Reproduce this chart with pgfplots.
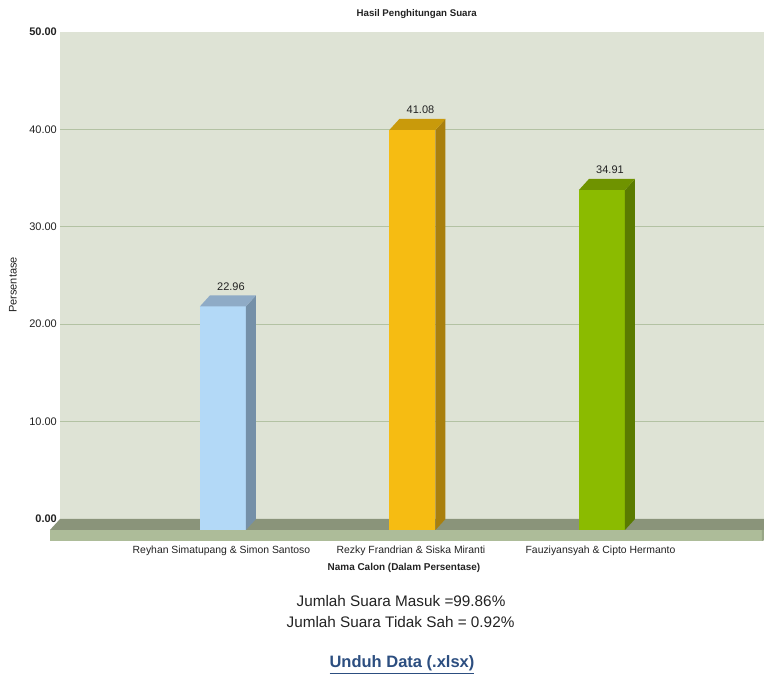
\documentclass[border=0pt]{standalone}
\usepackage{fontspec}
\setmainfont{Liberation Sans}
\usepackage{pgfplots}
\usepackage{pgfplotstable}
\pgfplotsset{compat=1.18}
\definecolor{bgc}{HTML}{DEE3D5}
\definecolor{gridc}{HTML}{B3C2A3}
\definecolor{floordark}{HTML}{8A947A}
\definecolor{floorlight}{HTML}{ADBC99}
\definecolor{floorend}{HTML}{98A686}
\definecolor{aF}{HTML}{B3D9F7}
\definecolor{aT}{HTML}{8FABC6}
\definecolor{aS}{HTML}{7590A8}
\definecolor{bF}{HTML}{F6BC12}
\definecolor{bT}{HTML}{C99A0B}
\definecolor{bS}{HTML}{A97F0D}
\definecolor{cF}{HTML}{8BBB00}
\definecolor{cT}{HTML}{6F9300}
\definecolor{cS}{HTML}{5A7B00}
\definecolor{txt}{HTML}{222222}
\definecolor{linkc}{HTML}{2C4E80}
\pgfdeclareplotmark{none3d}{}
\newcommand\boxfaces[2]{%
  \pgfmathsetmacro\hh{\val*9.74}%
  \pgfsetfillcolor{#2}%
  \pgfpathmoveto{\pgfpoint{23pt}{-11pt}}%
  \pgfpathlineto{\pgfpoint{33pt}{0pt}}%
  \pgfpathlineto{\pgfpoint{33pt}{-\hh pt}}%
  \pgfpathlineto{\pgfpoint{23pt}{-\hh pt-11pt}}%
  \pgfpathclose\pgfusepath{fill}%
  \pgfsetfillcolor{#1}%
  \pgfpathmoveto{\pgfpoint{-23pt}{-11pt}}%
  \pgfpathlineto{\pgfpoint{23pt}{-11pt}}%
  \pgfpathlineto{\pgfpoint{33pt}{0pt}}%
  \pgfpathlineto{\pgfpoint{-13pt}{0pt}}%
  \pgfpathclose\pgfusepath{fill}%
}
\pgfplotstableread{
x v
0 22.96
1 41.08
2 34.91
}\votes
\begin{document}
\begin{tikzpicture}
\path[use as bounding box] (0,0) rectangle (764pt,674pt);
\begin{axis}[
  at={(60pt,155pt)}, anchor=south west,
  scale only axis, width=704pt, height=487pt,
  xmin=-0.860, xmax=2.855, ymin=0, ymax=50,
  clip=false,
  axis line style={draw=none},
  major tick length=0pt,
  axis background/.style={fill=bgc},
  ymajorgrids, grid style={gridc, line width=1pt},
  ytick={10,20,30,40},
  yticklabels={10.00,20.00,30.00,40.00},
  extra y ticks={0,50},
  extra y tick labels={\textbf{0.00},\textbf{50.00}},
  extra y tick style={grid=none},
  yticklabel style={anchor=east, inner sep=0pt, xshift=-3pt, text=txt, font=\fontsize{11}{13}\selectfont},
  xtick={0,1,2},
  xticklabels={Reyhan Simatupang \& Simon Santoso, Rezky Frandrian \& Siska Miranti, Fauziyansyah \& Cipto Hermanto},
  xticklabel style={anchor=base, inner sep=0pt, yshift=-35pt, xshift=-1.5pt, text=txt, font=\fontsize{10.4}{12}\selectfont},
  /pgf/number format/assume math mode=true,
  every node near coord/.append style={anchor=center, xshift=8pt, yshift=20pt, text=txt, font=\fontsize{11}{13}\selectfont},
]
% floor
\fill[floordark] (axis cs:-0.860,0) -- (axis cs:2.855,0) -- (axis cs:2.855,-1.129) -- (axis cs:-0.913,-1.129) -- cycle;
\fill[floorlight] (axis cs:-0.913,-1.129) rectangle (axis cs:2.844,-2.259);
\fill[floorend] (axis cs:2.844,-1.129) -- (axis cs:2.855,-1.129) -- (axis cs:2.855,-2.2) -- (axis cs:2.844,-2.259) -- cycle;
% bar 1
\addplot[scatter, only marks, mark=none3d, restrict x to domain=-0.2:0.2,
  visualization depends on={\thisrow{v} \as \val},
  scatter/@pre marker code/.code={\boxfaces{aT}{aS}},
  scatter/@post marker code/.code={}]
  table[x=x,y=v]{\votes};
\addplot[ybar, bar width=46pt, bar shift=0pt, fill=aF, draw=none, yshift=-11pt, restrict x to domain=-0.2:0.2,
  nodes near coords={\pgfmathprintnumber[fixed,fixed zerofill,precision=2]{\pgfplotspointmeta}}]
  table[x=x,y=v]{\votes};
% bar 2
\addplot[scatter, only marks, mark=none3d, restrict x to domain=0.8:1.2,
  visualization depends on={\thisrow{v} \as \val},
  scatter/@pre marker code/.code={\boxfaces{bT}{bS}},
  scatter/@post marker code/.code={}]
  table[x=x,y=v]{\votes};
\addplot[ybar, bar width=46pt, bar shift=0pt, fill=bF, draw=none, yshift=-11pt, restrict x to domain=0.8:1.2,
  nodes near coords={\pgfmathprintnumber[fixed,fixed zerofill,precision=2]{\pgfplotspointmeta}}]
  table[x=x,y=v]{\votes};
% bar 3
\addplot[scatter, only marks, mark=none3d, restrict x to domain=1.8:2.2,
  visualization depends on={\thisrow{v} \as \val},
  scatter/@pre marker code/.code={\boxfaces{cT}{cS}},
  scatter/@post marker code/.code={}]
  table[x=x,y=v]{\votes};
\addplot[ybar, bar width=46pt, bar shift=0pt, fill=cF, draw=none, yshift=-11pt, restrict x to domain=1.8:2.2,
  nodes near coords={\pgfmathprintnumber[fixed,fixed zerofill,precision=2]{\pgfplotspointmeta}}]
  table[x=x,y=v]{\votes};
\end{axis}
\node[anchor=base, inner sep=0pt, text=txt, font=\fontsize{9.7}{11}\selectfont\bfseries] at (416.7pt,657.3pt) {Hasil Penghitungan Suara};
\node[rotate=90, inner sep=0pt, text=txt, font=\fontsize{11}{13}\selectfont] at (13pt,389pt) {Persentase};
\node[anchor=base, inner sep=0pt, text=txt, font=\fontsize{9.95}{12}\selectfont\bfseries] at (404pt,103pt) {Nama Calon (Dalam Persentase)};
\node[anchor=base, inner sep=0pt, text=txt, font=\fontsize{15.3}{18}\selectfont] at (401pt,67pt) {Jumlah Suara Masuk =99.86\%};
\node[anchor=base, inner sep=0pt, text=txt, font=\fontsize{15.3}{18}\selectfont] at (400.5pt,46pt) {Jumlah Suara Tidak Sah = 0.92\%};
\node[anchor=base, inner sep=0pt, text=linkc, font=\fontsize{16.5}{19}\selectfont\bfseries] at (402pt,6pt) {\underline{Unduh Data (.xlsx)}};
\end{tikzpicture}
\end{document}
